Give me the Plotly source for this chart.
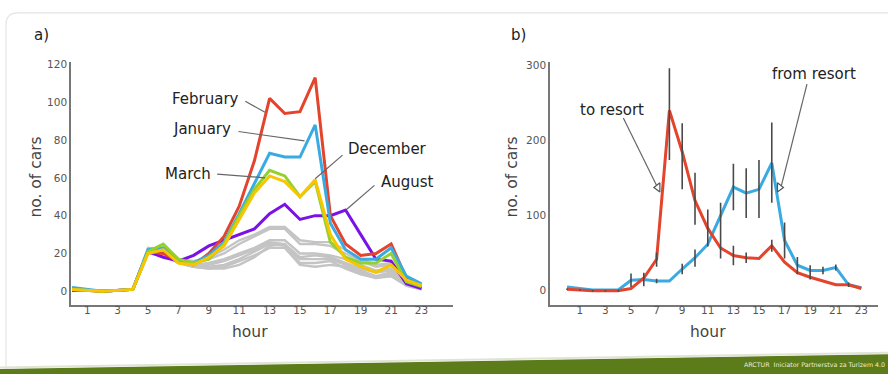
import plotly.graph_objects as go

W, H = 888, 374

# ---------------- data ----------------
hours = list(range(24))
tick_hours = [1, 3, 5, 7, 9, 11, 13, 15, 17, 19, 21, 23]
tick_labels_a = [str(h) for h in tick_hours]
ytick_a = [0, 20, 40, 60, 80, 100, 120]
ytick_b = [0, 100, 200, 300]

february = [1, 0.5, 0, 0.5, 1, 21, 20, 16, 14, 20, 29, 45, 69, 102, 94, 95, 113, 40, 25, 19, 20, 25, 7, 3]
january  = [2, 1, 0, 0.5, 1, 22, 23, 16, 15, 19, 26, 41, 57, 73, 71, 71, 88, 36, 22, 17, 17, 23, 8, 4]
march    = [1, 0.5, 0, 0.5, 1, 21, 25, 17, 15, 17, 25, 40, 54, 64, 61, 50, 58, 26, 18, 15, 15, 20, 5, 2.5]
december = [1, 0.5, 0, 0.5, 1, 20, 22, 15, 14, 18, 24, 38, 52, 61, 58, 50, 59, 30, 17, 13, 10, 14, 6, 3]
august   = [0.5, 0.5, 0, 0.5, 1, 21, 18, 16, 19, 24, 27, 30, 33, 41, 46, 38, 40, 40, 43, 30, 17, 16, 4, 1.5]

grey_months = [
    [1, 0.5, 0, 0.5, 1, 23, 22, 17, 16, 18, 22, 27, 30, 34, 34, 27, 26, 26, 22, 17, 14, 15, 6, 3],
    [1, 0.5, 0, 0.5, 1, 22, 21, 16, 15, 17, 20, 25, 29, 33, 33, 25, 25, 24, 20, 16, 13, 14, 5, 2],
    [1, 0.5, 0, 0.5, 1, 21, 20, 15, 14, 15, 17, 20, 23, 27, 27, 20, 20, 19, 17, 14, 11, 12, 5, 2],
    [1, 0.5, 0, 0.5, 1, 22, 21, 16, 14, 14, 16, 19, 22, 26, 25, 18, 19, 18, 15, 12, 10, 11, 4, 2],
    [1, 0.5, 0, 0.5, 1, 21, 20, 15, 13, 13, 14, 17, 21, 25, 24, 17, 17, 17, 14, 11, 8, 10, 4, 1.5],
    [1, 0.5, 0, 0.5, 1, 20, 19, 15, 13, 12, 13, 16, 19, 23, 23, 14, 13, 14, 13, 10, 7, 9, 3, 1],
    [1, 0.5, 0, 0.5, 1, 22, 20, 15, 13, 12, 12, 14, 18, 24, 25, 15, 15, 16, 12, 9, 7, 8, 3, 1],
]

to_resort   = [2, 1, 0, 0, 0, 3, 17, 42, 240, 185, 120, 83, 57, 47, 44, 43, 60, 38, 24, 18, 13, 8, 8, 3]
to_err_up   = [1, 1, 1, 1, 1, 0, 0, 9, 56, 38, 37, 25, 0, 13, 7, 0, 8, 0, 0, 0, 0, 0, 0, 0]
to_err_down = [1, 1, 1, 1, 1, 0, 0, 10, 66, 50, 32, 24, 0, 13, 7, 0, 8, 0, 0, 0, 0, 0, 0, 0]

from_resort   = [5, 3, 1, 1, 1, 14, 15, 13, 13, 29, 44, 62, 100, 138, 130, 135, 170, 67, 34, 27, 27, 31, 8, 4]
from_err_up   = [0, 0, 0, 0, 0, 9, 9, 3, 0, 7, 11, 0, 17, 31, 33, 39, 54, 24, 11, 7, 5, 4, 3, 0]
from_err_down = [0, 0, 0, 0, 0, 9, 9, 3, 0, 7, 12, 0, 57, 31, 33, 38, 53, 24, 12, 12, 5, 4, 3, 0]

# labels (text, text position, leader start, leader end) panel a
labels_a = ["February", "January", "March", "December", "August"]
label_pos_a = [(8.75, 101.5), (8.55, 86), (7.65, 62), (20.75, 75), (22.05, 58)]
leader_a = [((11.4, 100.5), (12.7, 94.7)),
            ((10.95, 84.5), (15.3, 79.5)),
            ((9.55, 62), (12.7, 60)),
            ((17.8, 72), (16.0, 59.5)),
            ((19.9, 56), (18.1, 43.5))]

labels_b = ["to resort", "from resort"]
label_pos_b = [(3.5, 241), (19.3, 289)]
leader_b = [((4.4, 230), (7.0, 140)), ((18.75, 275), (16.75, 140))]
arrow_tri_b = [(7.1, 137.5), (16.6, 137.5)]

# ---------------- styling ----------------
RED = "#e4432c"
BLUE = "#3aaae2"
GREEN = "#93d12c"
YELLOW = "#f7c600"
PURPLE = "#7a12e6"
GREY = "#c4c4c4"
FONT = "DejaVu Sans"

fig = go.Figure()

for g in grey_months:
    fig.add_trace(go.Scatter(x=hours, y=g, mode="lines", line=dict(color=GREY, width=2.4),
                             xaxis="x", yaxis="y", showlegend=False, hoverinfo="skip"))
for series, col in [(august, PURPLE), (february, RED), (january, BLUE), (march, GREEN), (december, YELLOW)]:
    fig.add_trace(go.Scatter(x=hours, y=series, mode="lines", line=dict(color=col, width=3),
                             xaxis="x", yaxis="y", showlegend=False))

# panel b lines
fig.add_trace(go.Scatter(x=hours, y=from_resort, mode="lines", line=dict(color=BLUE, width=3),
                         xaxis="x2", yaxis="y2", showlegend=False))
fig.add_trace(go.Scatter(x=hours, y=to_resort, mode="lines", line=dict(color=RED, width=3),
                         xaxis="x2", yaxis="y2", showlegend=False))
# error bars on top
for vals, up, dn in [(from_resort, from_err_up, from_err_down), (to_resort, to_err_up, to_err_down)]:
    fig.add_trace(go.Scatter(x=hours, y=vals, mode="markers",
                             marker=dict(size=1, color="rgba(0,0,0,0)"),
                             error_y=dict(type="data", symmetric=False, array=up, arrayminus=dn,
                                          color="#4a4a4a", thickness=1.6, width=0),
                             xaxis="x2", yaxis="y2", showlegend=False, hoverinfo="skip"))
# open triangles at arrow ends
fig.add_trace(go.Scatter(x=[p[0] for p in arrow_tri_b], y=[p[1] for p in arrow_tri_b], mode="markers",
                         marker=dict(symbol=["triangle-left-open", "triangle-right-open"], size=8,
                                     color="#555", line=dict(width=1.2, color="#555")),
                         xaxis="x2", yaxis="y2", showlegend=False, hoverinfo="skip"))

shapes = []
# card background
def px(x, y):
    return x / W, 1 - y / H

x0, y0 = px(6, 10)
xr, _ = px(888, 10)
_, yb = px(6, 372)
xc, yc = px(18, 22)
shapes.append(dict(type="path", xref="paper", yref="paper",
                   path=f"M {x0},{yb} L {x0},{yc} Q {x0},{y0} {xc},{y0} L {xr},{y0}",
                   line=dict(color="#e4e4e4", width=1.2), layer="below"))
# green footer bar
g1 = px(0, 369); g2 = px(888, 354); g3 = px(888, 374); g4 = px(0, 374)
shapes.append(dict(type="path", xref="paper", yref="paper",
                   path=f"M {g1[0]},{g1[1]} L {g2[0]},{g2[1]} L {g3[0]},{g3[1]} L {g4[0]},{g4[1]} Z",
                   fillcolor="#5c7b1b", line=dict(width=0), layer="above"))
h1 = px(0, 367.5); h2 = px(888, 352.5)
shapes.append(dict(type="line", xref="paper", yref="paper", x0=h1[0], y0=h1[1], x1=h2[0], y1=h2[1],
                   line=dict(color="#dfe4d3", width=2), layer="above"))

for (s, e) in leader_a:
    shapes.append(dict(type="line", xref="x", yref="y", x0=s[0], y0=s[1], x1=e[0], y1=e[1],
                       line=dict(color="#666", width=1.2)))
for (s, e) in leader_b:
    shapes.append(dict(type="line", xref="x2", yref="y2", x0=s[0], y0=s[1], x1=e[0], y1=e[1],
                       line=dict(color="#666", width=1.2)))

annotations = []
for t, (x, y) in zip(labels_a, label_pos_a):
    annotations.append(dict(x=x, y=y, xref="x", yref="y", text=t, showarrow=False,
                            font=dict(family=FONT, size=15, color="#222")))
for t, (x, y) in zip(labels_b, label_pos_b):
    annotations.append(dict(x=x, y=y, xref="x2", yref="y2", text=t, showarrow=False,
                            font=dict(family=FONT, size=15, color="#222")))

def pann(text, x, y, size=15, color="#333", angle=0):
    ax_, ay_ = px(x, y)
    annotations.append(dict(x=ax_, y=ay_, xref="paper", yref="paper", text=text, showarrow=False,
                            textangle=angle, xanchor="center", yanchor="middle",
                            font=dict(family=FONT, size=size, color=color)))

pann("a)", 41, 32, 15, "#222")
pann("b)", 518, 32, 15, "#222")
pann("no. of cars", 36, 176, 15.5, "#444", -90)
pann("no. of cars", 512, 176, 15.5, "#444", -90)
pann("hour", 250, 332, 15.5, "#444")
pann("hour", 708, 332, 15.5, "#444")
annotations.append(dict(x=0.999, y=px(0, 364.5)[1], xref="paper", yref="paper",
                        text="ARCTUR  Iniciator Partnerstva za Turizem 4.0", showarrow=False,
                        xanchor="right", yanchor="middle",
                        font=dict(family=FONT, size=6.3, color="#e8eedd")))

ydom = [1 - 304 / H, 1 - 59 / H]
axis_common = dict(showgrid=False, zeroline=False, showline=True, linecolor="#777", linewidth=1.6,
                   ticks="", tickfont=dict(family=FONT, size=10.5, color="#555"), fixedrange=True)

fig.update_layout(
    width=W, height=H, margin=dict(l=0, r=0, t=0, b=0),
    paper_bgcolor="white", plot_bgcolor="rgba(0,0,0,0)",
    xaxis=dict(domain=[71 / W, 453 / W], range=[-0.07, 25.07], tickvals=tick_hours,
               ticktext=tick_labels_a, anchor="y", ticklabelstandoff=-5, **axis_common),
    yaxis=dict(domain=ydom, range=[-7, 121.5], tickvals=ytick_a, anchor="x", **axis_common),
    xaxis2=dict(domain=[550 / W, 878 / W], range=[-1.33, 24.3], tickvals=tick_hours,
                ticktext=tick_labels_a, anchor="y2", ticklabelstandoff=-5, **axis_common),
    yaxis2=dict(domain=ydom, range=[-18.3, 305], tickvals=ytick_b, anchor="x2", **axis_common),
    shapes=shapes, annotations=annotations,
)

fig.write_html("out.html", config={"displayModeBar": False},
               post_script="document.body.style.margin='0';document.body.style.overflow='hidden';")
